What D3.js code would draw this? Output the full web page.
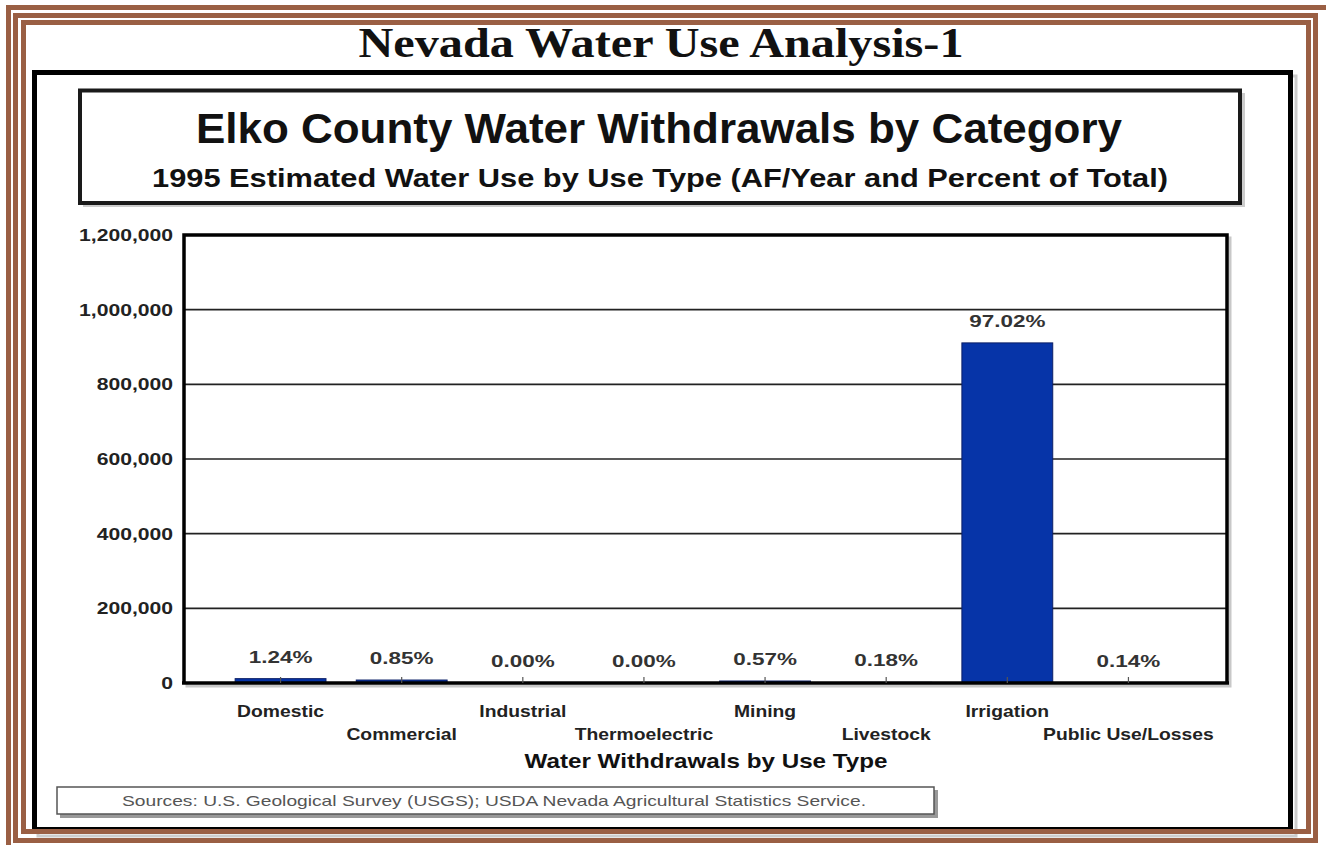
<!DOCTYPE html>
<html>
<head>
<meta charset="utf-8">
<script src="https://cdn.jsdelivr.net/npm/d3@7/dist/d3.min.js"></script>
<style>
html,body{margin:0;padding:0;background:#fff;}
svg{display:block;}
</style>
</head>
<body>
<svg id="chart" width="1326" height="845"></svg>
<script>
// ---- data ----
const categories = ["Domestic","Commercial","Industrial","Thermoelectric","Mining","Livestock","Irrigation","Public Use/Losses"];
const withdrawals = [11650, 7980, 0, 0, 5350, 1690, 911000, 1310];
const percentLabels = ["1.24%","0.85%","0.00%","0.00%","0.57%","0.18%","97.02%","0.14%"];
const yTicks = [0, 200000, 400000, 600000, 800000, 1000000, 1200000];
const pageTitle = "Nevada Water Use Analysis-1";
const chartTitle = "Elko County Water Withdrawals by Category";
const chartSubtitle = "1995 Estimated Water Use by Use Type (AF/Year and Percent of Total)";
const xAxisTitle = "Water Withdrawals by Use Type";
const sourceText = "Sources:  U.S. Geological Survey (USGS); USDA Nevada Agricultural Statistics Service.";

const svg = d3.select("#chart");
const SANS = "'Liberation Sans', Arial, sans-serif";
const SERIF = "'Liberation Serif', 'Times New Roman', serif";
const BROWN = "#9a5f44";

function stretch(sel, factor) {
  sel.each(function() {
    const w = this.getComputedTextLength();
    this.setAttribute("textLength", w * factor);
    this.setAttribute("lengthAdjust", "spacingAndGlyphs");
  });
}

svg.append("rect").attr("x",0).attr("y",0).attr("width",1326).attr("height",845).attr("fill","#fff");

// page title
svg.append("text").attr("x",661).attr("y",57).attr("text-anchor","middle")
  .attr("font-family",SERIF).attr("font-weight","bold").attr("font-size",42)
  .attr("fill","#111").attr("textLength",605).attr("lengthAdjust","spacingAndGlyphs").text(pageTitle);

// outer black chart box
svg.append("rect").attr("x",38).attr("y",76).attr("width",1258).attr("height",760)
  .attr("fill","none").attr("stroke","#ccc").attr("stroke-width",3);
svg.append("rect").attr("x",34.5).attr("y",72.5).attr("width",1256).attr("height",757)
  .attr("fill","#fff").attr("stroke","#000").attr("stroke-width",5);

// title box
svg.append("rect").attr("x",83).attr("y",93).attr("width",1162).attr("height",114)
  .attr("fill","#ccc");
svg.append("rect").attr("x",80).attr("y",90.5).attr("width",1160).attr("height",112.5)
  .attr("fill","#fff").attr("stroke","#1a1a1a").attr("stroke-width",4);
svg.append("text").attr("x",659).attr("y",143).attr("text-anchor","middle")
  .attr("font-family",SANS).attr("font-weight","bold").attr("font-size",42)
  .attr("fill","#111").attr("textLength",926).attr("lengthAdjust","spacingAndGlyphs").text(chartTitle);
svg.append("text").attr("x",660).attr("y",187).attr("text-anchor","middle")
  .attr("font-family",SANS).attr("font-weight","bold").attr("font-size",26)
  .attr("fill","#111").attr("textLength",1016).attr("lengthAdjust","spacingAndGlyphs").text(chartSubtitle);

// scales
const plotL = 184, plotR = 1227, plotT = 235, plotB = 683;
const x = d3.scaleBand().domain(categories).range([220, 1189]).paddingInner(0.25).paddingOuter(0.125);
const y = d3.scaleLinear().domain([0, 1200000]).range([plotB, plotT]);

// plot frame shadow
svg.append("rect").attr("x",plotL+3).attr("y",plotT+3).attr("width",plotR-plotL).attr("height",plotB-plotT)
  .attr("fill","none").attr("stroke","#c8c8c8").attr("stroke-width",3);
svg.append("rect").attr("x",plotL).attr("y",plotT).attr("width",plotR-plotL).attr("height",plotB-plotT)
  .attr("fill","#fff");

// gridlines
svg.append("g").selectAll("line").data(yTicks.filter(t => t > 0 && t < 1200000)).join("line")
  .attr("x1",plotL).attr("x2",plotR).attr("y1",d=>y(d)).attr("y2",d=>y(d))
  .attr("stroke","#222").attr("stroke-width",1.6);

// y axis labels
const yAxis = d3.axisLeft(y).tickValues(yTicks).tickFormat(d3.format(",")).tickSize(0).tickPadding(11);
const yg = svg.append("g").attr("transform",`translate(${plotL},0)`).call(yAxis);
yg.select(".domain").remove();
yg.selectAll("text").attr("font-family",SANS).attr("font-weight","bold").attr("font-size",16)
  .attr("fill","#222").attr("dy","0.35em");
stretch(yg.selectAll("text"), 1.32);

// bars
svg.append("g").selectAll("rect").data(categories).join("rect")
  .attr("x",d=>x(d)).attr("width",x.bandwidth())
  .attr("y",(d,i)=>y(withdrawals[i])).attr("height",(d,i)=>plotB - y(withdrawals[i]))
  .attr("fill","#0634a8").attr("stroke","#0c1f66").attr("stroke-width",1);

// frame
svg.append("path").attr("d",`M${plotL},${plotB} V${plotT} H${plotR} V${plotB}`)
  .attr("fill","none").attr("stroke","#000").attr("stroke-width",3.5);
svg.append("line").attr("x1",plotL-2).attr("x2",plotR+2).attr("y1",plotB).attr("y2",plotB)
  .attr("stroke","#000").attr("stroke-width",3.5);

// x axis ticks (inside, upward)
svg.append("g").selectAll("line").data(categories).join("line")
  .attr("x1",d=>x(d)+x.bandwidth()/2).attr("x2",d=>x(d)+x.bandwidth()/2)
  .attr("y1",plotB).attr("y2",plotB-6).attr("stroke","#555").attr("stroke-width",1.2);

// percent labels
const pl = svg.append("g").selectAll("text").data(categories).join("text")
  .attr("x",d=>x(d)+x.bandwidth()/2).attr("y",(d,i)=>y(withdrawals[i]) - 16)
  .attr("text-anchor","middle").attr("font-family",SANS).attr("font-weight","bold")
  .attr("font-size",17).attr("fill","#333").text((d,i)=>percentLabels[i]);
stretch(pl, 1.32);

// category labels (staggered)
const cl = svg.append("g").selectAll("text").data(categories).join("text")
  .attr("x",d=>x(d)+x.bandwidth()/2).attr("y",(d,i)=> i%2===0 ? 717 : 740)
  .attr("text-anchor","middle").attr("font-family",SANS).attr("font-weight","bold")
  .attr("font-size",16.5).attr("fill","#222").text(d=>d);
stretch(cl, 1.17);

// x axis title
svg.append("text").attr("x",706).attr("y",768).attr("text-anchor","middle")
  .attr("font-family",SANS).attr("font-weight","bold").attr("font-size",21)
  .attr("fill","#111").attr("textLength",363).attr("lengthAdjust","spacingAndGlyphs").text(xAxisTitle);

// source box
svg.append("rect").attr("x",60).attr("y",790).attr("width",878).attr("height",28).attr("fill","#999");
svg.append("rect").attr("x",57).attr("y",787).attr("width",877).attr("height",27)
  .attr("fill","#fff").attr("stroke","#555").attr("stroke-width",1.5);
svg.append("text").attr("x",494).attr("y",806).attr("text-anchor","middle")
  .attr("font-family","'Liberation Sans Narrow', 'Arial Narrow', "+SANS).attr("font-size",15)
  .attr("fill","#555").attr("textLength",744).attr("lengthAdjust","spacingAndGlyphs").text(sourceText);

// brown triple frame (drawn on top)
const frames = [
  {x:6, y:5, w:1326, h:850},
  {x:13, y:13, w:1305, h:830},
  {x:21, y:20, w:1290, h:814}
];
svg.append("g").selectAll("rect").data(frames).join("rect")
  .attr("x",d=>d.x+2.5).attr("y",d=>d.y+2.5).attr("width",d=>d.w-5).attr("height",d=>d.h-5)
  .attr("fill","none").attr("stroke",BROWN).attr("stroke-width",5);
</script>
</body>
</html>
